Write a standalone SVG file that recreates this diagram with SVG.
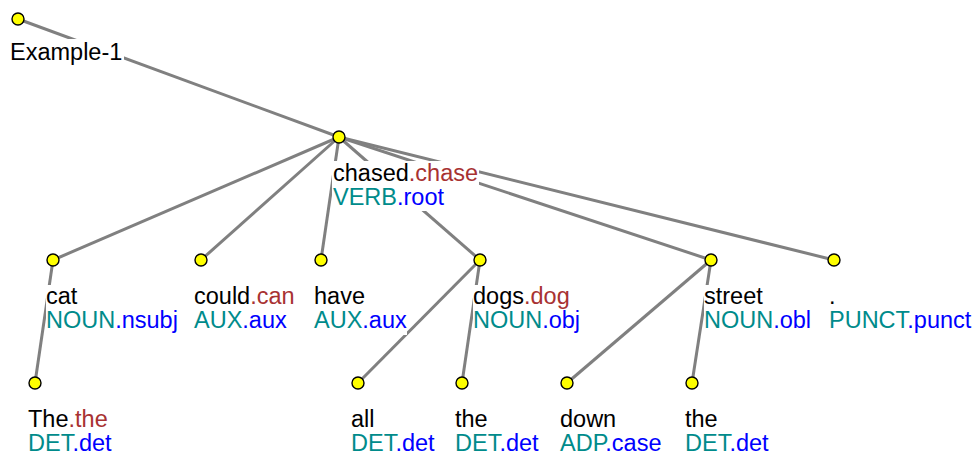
<svg xmlns="http://www.w3.org/2000/svg" width="976" height="457" viewBox="0 0 976 457">
  <style>
    .edge { stroke: #808080; stroke-width: 3; fill: none; stroke-linecap: butt; }
    .dot { fill: #ffff00; stroke: #000000; stroke-width: 1.4; }
    .bg { fill: #ffffff; stroke: none; }
    text { font-family: "Liberation Sans", Arial, sans-serif; font-size: 23.5px; }
    .form { fill: #000000; }
    .lemma { fill: #a83232; }
    .pos { fill: #008b8b; }
    .rel { fill: #0000ff; }
  </style>
  <rect width="976" height="457" fill="#ffffff"/>

  <!-- dependency arcs -->
  <g id="connectors">
    <line class="edge" x1="18" y1="19" x2="339" y2="137"/>
    <line class="edge" x1="339" y1="137" x2="53" y2="260"/>
    <line class="edge" x1="339" y1="137" x2="201" y2="260"/>
    <line class="edge" x1="339" y1="137" x2="321" y2="260"/>
    <line class="edge" x1="339" y1="137" x2="480" y2="260"/>
    <line class="edge" x1="339" y1="137" x2="711" y2="260"/>
    <line class="edge" x1="339" y1="137" x2="834" y2="260"/>
    <line class="edge" x1="53" y1="260" x2="35" y2="383"/>
    <line class="edge" x1="480" y1="260" x2="358" y2="383"/>
    <line class="edge" x1="480" y1="260" x2="462" y2="383"/>
    <line class="edge" x1="711" y1="260" x2="567" y2="383"/>
    <line class="edge" x1="711" y1="260" x2="692" y2="383"/>
  </g>

  <g id="node-root">
    <rect class="bg" x="11" y="39" width="113" height="26"/>
    <circle class="dot" cx="18" cy="19" r="6"/>
    <text x="10" y="60" class="form">Example-1</text>
  </g>

  <g id="node-chased">
    <rect class="bg" x="332" y="161" width="147" height="50"/>
    <circle class="dot" cx="339" cy="137" r="6"/>
    <text x="333" y="181"><tspan class="form">chased</tspan><tspan class="lemma">.chase</tspan></text>
    <text x="333" y="205"><tspan class="pos">VERB</tspan><tspan class="rel">.root</tspan></text>
  </g>

  <g id="node-cat">
    <rect class="bg" x="46" y="285" width="133" height="50"/>
    <circle class="dot" cx="53" cy="260" r="6"/>
    <text x="46" y="304" class="form">cat</text>
    <text x="46" y="328"><tspan class="pos">NOUN</tspan><tspan class="rel">.nsubj</tspan></text>
  </g>

  <g id="node-could">
    <rect class="bg" x="194" y="285" width="102" height="50"/>
    <circle class="dot" cx="201" cy="260" r="6"/>
    <text x="194" y="304"><tspan class="form">could</tspan><tspan class="lemma">.can</tspan></text>
    <text x="194" y="328"><tspan class="pos">AUX</tspan><tspan class="rel">.aux</tspan></text>
  </g>

  <g id="node-have">
    <rect class="bg" x="314" y="285" width="93" height="50"/>
    <circle class="dot" cx="321" cy="260" r="6"/>
    <text x="314" y="304" class="form">have</text>
    <text x="314" y="328"><tspan class="pos">AUX</tspan><tspan class="rel">.aux</tspan></text>
  </g>

  <g id="node-dogs">
    <rect class="bg" x="473" y="285" width="109" height="50"/>
    <circle class="dot" cx="480" cy="260" r="6"/>
    <text x="473" y="304"><tspan class="form">dogs</tspan><tspan class="lemma">.dog</tspan></text>
    <text x="473" y="328"><tspan class="pos">NOUN</tspan><tspan class="rel">.obj</tspan></text>
  </g>

  <g id="node-street">
    <rect class="bg" x="704" y="285" width="110" height="50"/>
    <circle class="dot" cx="711" cy="260" r="6"/>
    <text x="704" y="304" class="form">street</text>
    <text x="704" y="328"><tspan class="pos">NOUN</tspan><tspan class="rel">.obl</tspan></text>
  </g>

  <g id="node-punct">
    <rect class="bg" x="829" y="285" width="145" height="50"/>
    <circle class="dot" cx="834" cy="260" r="6"/>
    <text x="829" y="304" class="form">.</text>
    <text x="829" y="328"><tspan class="pos">PUNCT</tspan><tspan class="rel">.punct</tspan></text>
  </g>

  <g id="node-the-1">
    <rect class="bg" x="28" y="408" width="88" height="50"/>
    <circle class="dot" cx="35" cy="383" r="6"/>
    <text x="28" y="427"><tspan class="form">The</tspan><tspan class="lemma">.the</tspan></text>
    <text x="28" y="451"><tspan class="pos">DET</tspan><tspan class="rel">.det</tspan></text>
  </g>

  <g id="node-all">
    <rect class="bg" x="351" y="408" width="88" height="50"/>
    <circle class="dot" cx="358" cy="383" r="6"/>
    <text x="351" y="427" class="form">all</text>
    <text x="351" y="451"><tspan class="pos">DET</tspan><tspan class="rel">.det</tspan></text>
  </g>

  <g id="node-the-4">
    <rect class="bg" x="455" y="408" width="88" height="50"/>
    <circle class="dot" cx="462" cy="383" r="6"/>
    <text x="455" y="427" class="form">the</text>
    <text x="455" y="451"><tspan class="pos">DET</tspan><tspan class="rel">.det</tspan></text>
  </g>

  <g id="node-down">
    <rect class="bg" x="560" y="408" width="106" height="50"/>
    <circle class="dot" cx="567" cy="383" r="6"/>
    <text x="560" y="427" class="form">down</text>
    <text x="560" y="451"><tspan class="pos">ADP</tspan><tspan class="rel">.case</tspan></text>
  </g>

  <g id="node-the-6">
    <rect class="bg" x="685" y="408" width="88" height="50"/>
    <circle class="dot" cx="692" cy="383" r="6"/>
    <text x="685" y="427" class="form">the</text>
    <text x="685" y="451"><tspan class="pos">DET</tspan><tspan class="rel">.det</tspan></text>
  </g>
</svg>
